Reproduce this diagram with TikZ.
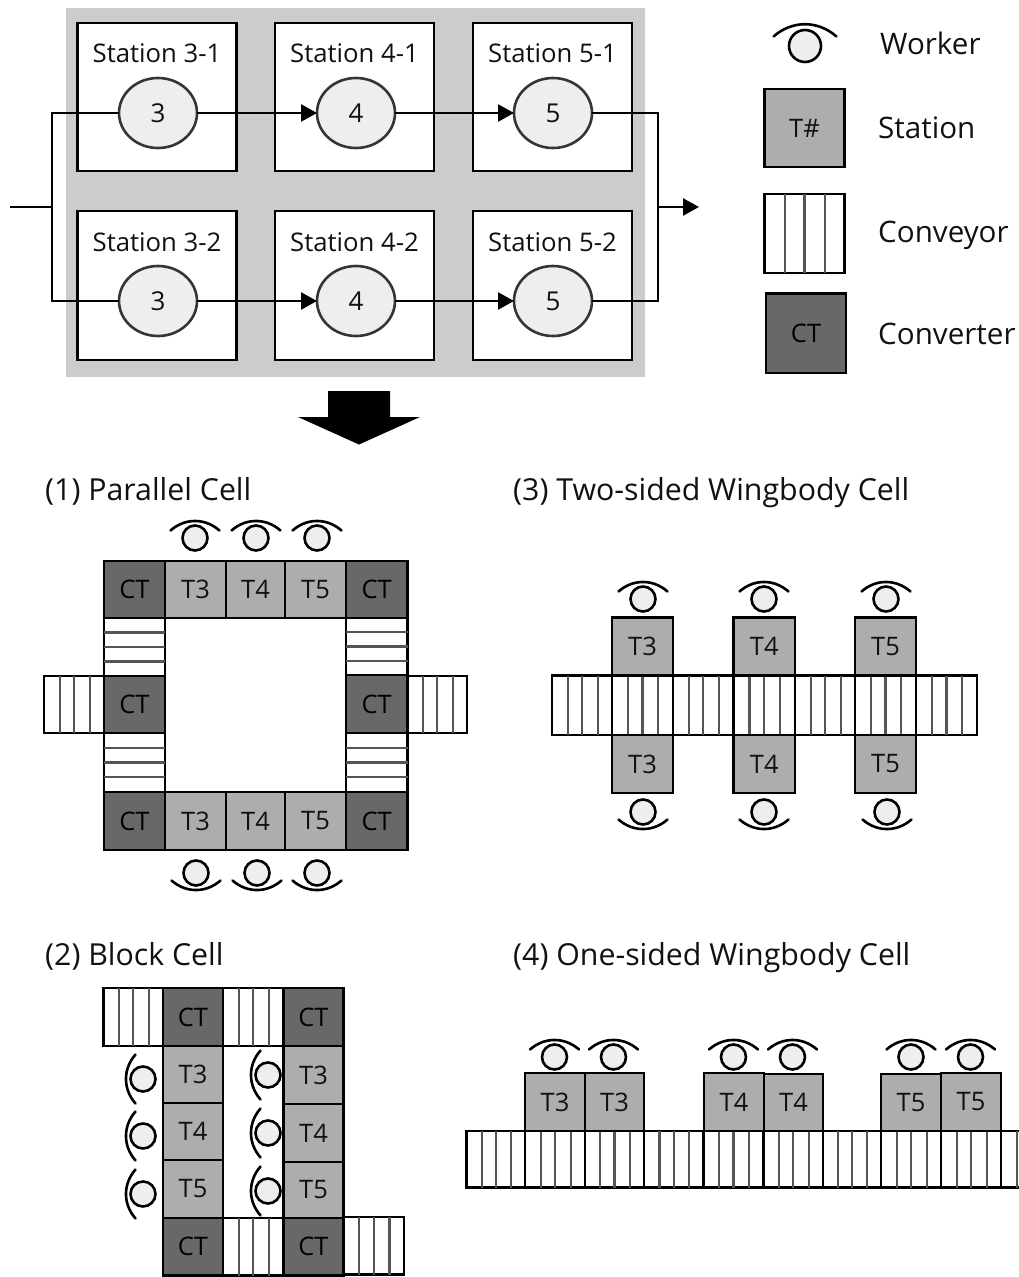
\documentclass[tikz,border=0pt]{standalone}
\usepackage{fontspec}
\setmainfont{Open Sans}
\usetikzlibrary{shapes.geometric,arrows.meta,calc}
\definecolor{panel}{HTML}{CCCCCC}
\definecolor{stationgray}{HTML}{ADADAD}
\definecolor{convertergray}{HTML}{686868}
\definecolor{disc}{HTML}{EEEEEE}
\definecolor{ink}{HTML}{111111}
\definecolor{slatgray}{HTML}{555555}
\tikzset{
  cellbase/.style={draw=black,line width=2.8pt,rectangle,inner sep=0pt,outer sep=0pt,text=ink,font=\fontsize{25.5}{28}\selectfont},
  stationcell/.style={cellbase,fill=stationgray},
  convertercell/.style={cellbase,fill=convertergray,text=black},
  conveyorcell/.style={cellbase,fill=white},
  slat/.style={draw=slatgray,line width=2.1pt},
  framebox/.style={draw=black,line width=2.8pt,fill=white,rectangle,inner sep=0pt,outer sep=0pt,minimum width=159pt,minimum height=148pt},
  opdisc/.style={ellipse,draw=ink!85,line width=2.6pt,fill=disc,inner sep=0pt,outer sep=0pt,minimum width=78pt,minimum height=70pt,font=\fontsize{26}{30}\selectfont,text=ink},
  boxtitle/.style={anchor=base,inner sep=0pt,font=\fontsize{25.7}{30}\selectfont,text=ink},
  sectiontitle/.style={anchor=base west,inner sep=0pt,font=\fontsize{30.3}{34}\selectfont,text=ink},
  legendtext/.style={anchor=base west,inner sep=0pt,font=\fontsize{29.6}{34}\selectfont,text=ink},
  flow/.style={draw=black,line width=2.6pt},
  flowarrow/.style={flow,-{Triangle[length=16pt,width=17pt]}},
  workerhead/.style={draw=black,line width=2.6pt,fill=disc},
  workerarc/.style={draw=black,line width=2.6pt,line cap=round},
}
\newcounter{cellno}
% style, x0, y0, x1, y1, text
\newcommand\boxcell[6]{%
  \stepcounter{cellno}%
  \node[#1,minimum width={#4-#2},minimum height={#5-#3}] (cell\arabic{cellno}) at ({(#2+#4)/2},{(#3+#5)/2}) {#6};}
\newcommand\stationat[5]{\boxcell{stationcell}{#1}{#2}{#3}{#4}{#5}}
\newcommand\converterat[4]{\boxcell{convertercell}{#1}{#2}{#3}{#4}{CT}}
\newcommand\vconveyor[4]{%
  \boxcell{conveyorcell}{#1}{#2}{#3}{#4}{}%
  \foreach \f in {.26,.5,.76}
    \draw[slat] ($(cell\arabic{cellno}.north west)!\f!(cell\arabic{cellno}.north east)$) -- ($(cell\arabic{cellno}.south west)!\f!(cell\arabic{cellno}.south east)$);}
\newcommand\hconveyor[4]{%
  \boxcell{conveyorcell}{#1}{#2}{#3}{#4}{}%
  \foreach \f in {.25,.5,.75}
    \draw[slat] ($(cell\arabic{cellno}.north west)!\f!(cell\arabic{cellno}.south west)$) -- ($(cell\arabic{cellno}.north east)!\f!(cell\arabic{cellno}.south east)$);}
% cx, cy, rotation, scale
\newcommand\workerat[4]{%
  \begin{scope}[shift={(#1,#2)},rotate=#3,scale=#4]
    \draw[workerhead] (0,0) circle (12.5);
    \draw[workerarc] (-24.5,-7.5) .. controls (-10,-20.2) and (10,-20.2) .. (24.5,-7.5);
  \end{scope}}
\begin{document}
\begin{tikzpicture}[x=1pt,y=-1pt]
\useasboundingbox (0,0) rectangle (1019,1277);
% ---- top flow panel
\fill[panel] (65.5,7.5) rectangle (645,376.5);
\foreach \nm/\x in {31/157,41/354.5,51/552.5}{
  \node[framebox] (box\nm) at (\x,97) {};
}
\foreach \nm/\x in {32/157,42/354.5,52/552.5}{
  \node[framebox,minimum height=149pt] (box\nm) at (\x,285.5) {};
}
\node[boxtitle] (lab31) at (157,62) {Station 3-1};
\node[boxtitle] (lab41) at (354.5,62) {Station 4-1};
\node[boxtitle] (lab51) at (552.5,62) {Station 5-1};
\node[boxtitle] (lab32) at (157,251) {Station 3-2};
\node[boxtitle] (lab42) at (354.5,251) {Station 4-2};
\node[boxtitle] (lab52) at (552.5,251) {Station 5-2};
\node[opdisc] (c31) at (158,113) {3};
\node[opdisc] (c41) at (356,113) {4};
\node[opdisc] (c51) at (553,113) {5};
\node[opdisc] (c32) at (158,301) {3};
\node[opdisc] (c42) at (356,301) {4};
\node[opdisc] (c52) at (553,301) {5};
\coordinate (flowin) at (10,207);
\coordinate (split) at (52,207);
\coordinate (merge) at (658,207);
\coordinate (flowout) at (699,207);
\draw[flow] (flowin) -- (split);
\draw[flow] (split) |- (c31.west);
\draw[flow] (split) |- (c32.west);
\draw[flowarrow] (c31) -- (c41);
\draw[flowarrow] (c41) -- (c51);
\draw[flowarrow] (c32) -- (c42);
\draw[flowarrow] (c42) -- (c52);
\draw[flow] (c51.east) -| (merge);
\draw[flow] (c52.east) -| (merge);
\draw[flowarrow] (merge) -- (flowout);
% block arrow
\fill[black] (328,391) -- (390,391) -- (390,417) -- (420,417) -- (359,444.5) -- (298,417) -- (328,417) -- cycle;
% ---- legend
\workerat{805}{46}{0}{1.28}
\node[legendtext] (lgw) at (880,54.5) {Worker};
\stationat{764.5}{89}{844.5}{167}{T\#}
\node[legendtext] (lgs) at (878,138.5) {Station};
\vconveyor{764.5}{194}{844.5}{273}
\node[legendtext] (lgc) at (878,242.5) {Conveyor};
\converterat{766}{293.5}{846}{373}
\node[legendtext] (lgt) at (878,344.5) {Converter};
% ---- titles
\node[sectiontitle] (t1) at (45,500.5) {(1) Parallel Cell};
\node[sectiontitle] (t3) at (513,500.5) {(3) Two-sided Wingbody Cell};
\node[sectiontitle] (t2) at (45,965.5) {(2) Block Cell};
\node[sectiontitle] (t4) at (513,965.5) {(4) One-sided Wingbody Cell};
% ---- (1) parallel cell
\converterat{104}{561}{165}{618}
\stationat{165}{561}{226}{618}{T3}
\stationat{226}{561}{285}{618}{T4}
\stationat{285}{561}{346}{618}{T5}
\converterat{346}{561}{407.5}{618}
\hconveyor{104}{618}{165}{676}
\hconveyor{346}{618}{407.5}{675}
\converterat{104}{676}{165}{733}
\converterat{346}{675}{407.5}{733}
\vconveyor{44}{676}{104}{733}
\vconveyor{407.5}{676}{467}{733}
\hconveyor{104}{733}{165}{792}
\hconveyor{346}{733}{407.5}{792}
\converterat{104}{792}{165}{850}
\stationat{165}{792}{226}{850}{T3}
\stationat{226}{792}{285}{850}{T4}
\stationat{285}{792}{346}{850}{T5}
\converterat{346}{792}{407.5}{850}
\workerat{195}{538}{0}{1}
\workerat{256}{538}{0}{1}
\workerat{317}{538}{0}{1}
\workerat{196}{873}{180}{1}
\workerat{257}{873}{180}{1}
\workerat{317}{873}{180}{1}
% ---- (2) block cell
\vconveyor{103.5}{988}{163}{1046}
\converterat{163}{988}{223}{1046}
\vconveyor{223}{988}{283.5}{1046}
\converterat{283.5}{988}{343.5}{1046}
\stationat{163}{1046}{223}{1103}{T3}
\stationat{163}{1103}{223}{1160}{T4}
\stationat{163}{1160}{223}{1218}{T5}
\stationat{283.5}{1046}{343.5}{1104}{T3}
\stationat{283.5}{1104}{343.5}{1162}{T4}
\stationat{283.5}{1162}{343.5}{1218}{T5}
\converterat{163}{1218}{223}{1275.5}
\vconveyor{223}{1218}{283.5}{1275.5}
\converterat{283.5}{1218}{343.5}{1275.5}
\vconveyor{343.5}{1217}{404}{1274.5}
\workerat{143}{1079}{90}{1}
\workerat{143}{1136}{90}{1}
\workerat{143}{1194}{90}{1}
\workerat{268}{1075}{90}{1}
\workerat{268}{1133}{90}{1}
\workerat{268}{1191}{90}{1}
% ---- (3) two-sided wingbody cell
\foreach \a/\b in {552/612,612/673,673/733.5,733.5/795,795/855,855/916,916/977}{
  \vconveyor{\a}{675.5}{\b}{735}
}
\stationat{612}{617.5}{673}{675.5}{T3}
\stationat{733.5}{617.5}{795}{675.5}{T4}
\stationat{855}{617.5}{916}{675.5}{T5}
\stationat{612}{735}{673}{793}{T3}
\stationat{733.5}{735}{795}{793}{T4}
\stationat{855}{735}{916}{793}{T5}
\workerat{643}{599}{0}{1}
\workerat{764}{599}{0}{1}
\workerat{886}{599}{0}{1}
\workerat{643}{812}{180}{1}
\workerat{764}{812}{180}{1}
\workerat{887}{812}{180}{1}
% ---- (4) one-sided wingbody cell
\foreach \a/\b in {466.5/525,525/585,585/644,644/703.5,703.5/763.5,763.5/823,823/881,881/941,941/1001}{
  \vconveyor{\a}{1131}{\b}{1187.5}
}
\draw[black,line width=2.8pt] (1019,1131) -- (1001,1131) -- (1001,1187.5) -- (1019,1187.5);
\draw[slat] (1017,1131) -- (1017,1187.5);
\stationat{525}{1073}{585}{1131}{T3}
\stationat{585}{1073}{644}{1131}{T3}
\stationat{704}{1073}{764}{1131}{T4}
\stationat{764}{1074}{823}{1131}{T4}
\stationat{881}{1074}{941}{1131}{T5}
\stationat{941}{1073}{1001}{1131}{T5}
\workerat{554.5}{1057}{0}{1}
\workerat{613.5}{1057}{0}{1}
\workerat{733.5}{1057}{0}{1}
\workerat{792.5}{1057}{0}{1}
\workerat{911}{1057}{0}{1}
\workerat{970.5}{1057}{0}{1}
\end{tikzpicture}
\end{document}
